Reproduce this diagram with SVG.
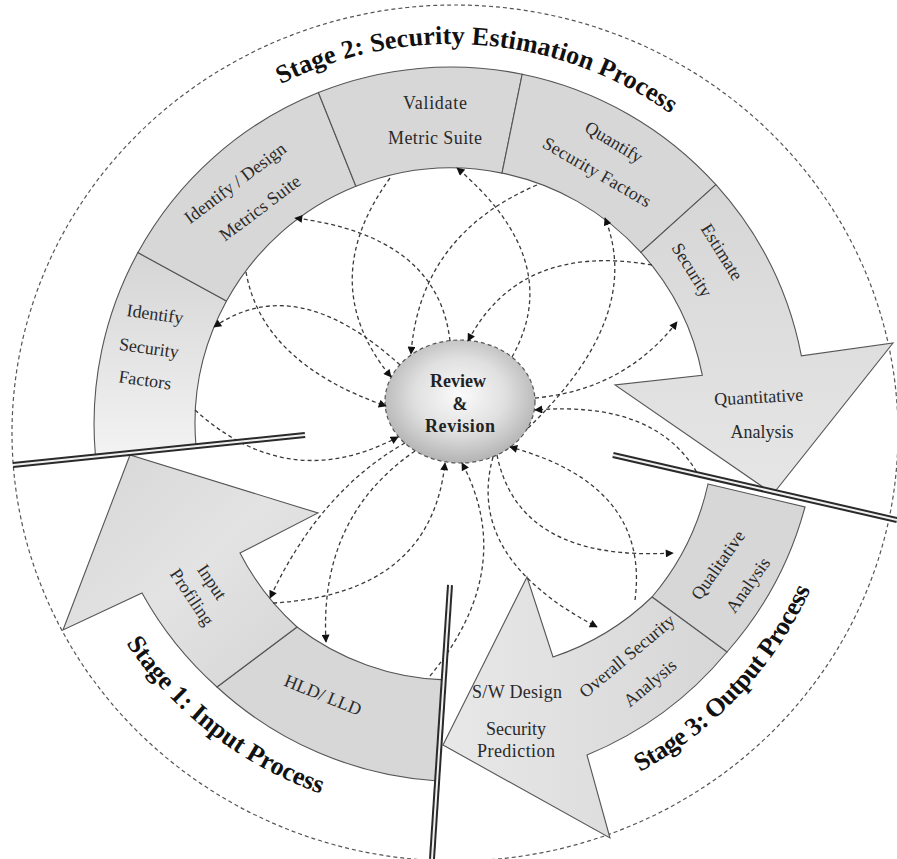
<svg xmlns="http://www.w3.org/2000/svg" width="897" height="859" viewBox="0 0 897 859">
<defs>
<style>
.seg{stroke:#555;stroke-width:1.1;fill:#d7d7d7}
.lbl{font-family:"Liberation Serif","Times New Roman",serif;font-size:18px;fill:#2a2a2a;text-anchor:middle}
.rev{font-family:"Liberation Serif","Times New Roman",serif;font-size:18px;font-weight:bold;fill:#222;text-anchor:middle}
.ttl{font-family:"Liberation Serif","Times New Roman",serif;font-size:26px;font-weight:bold;fill:#111}
.con{fill:none;stroke:#3a3a3a;stroke-width:1.3;stroke-dasharray:4 3;marker-end:url(#ah)}
.sepo{fill:none;stroke:#2a2a2a;stroke-width:6}
.sepi{fill:none;stroke:#f0f0f0;stroke-width:2}
.outer{fill:none;stroke:#555;stroke-width:1.2;stroke-dasharray:4 3}
</style>
<marker id="ah" viewBox="0 0 10 10" refX="9" refY="5" markerWidth="9" markerHeight="8" orient="auto" markerUnits="userSpaceOnUse"><path d="M0,0 L10,5 L0,10 z" fill="#111"/></marker>
<radialGradient id="gRev" cx="50%" cy="45%" r="55%"><stop offset="0" stop-color="#fbfbfb"/><stop offset="0.55" stop-color="#e0e0e0"/><stop offset="1" stop-color="#b3b3b3"/></radialGradient>
<linearGradient id="gISF" x1="0" y1="0" x2="0" y2="1"><stop offset="0" stop-color="#d5d5d5"/><stop offset="1" stop-color="#f3f3f3"/></linearGradient>
<linearGradient id="gIP" x1="0" y1="0" x2="1" y2="1"><stop offset="0" stop-color="#d6d6d6"/><stop offset="0.5" stop-color="#e3e3e3"/><stop offset="1" stop-color="#d4d4d4"/></linearGradient>
<linearGradient id="gQA" x1="0" y1="0" x2="0" y2="1"><stop offset="0" stop-color="#d6d6d6"/><stop offset="1" stop-color="#e6e6e6"/></linearGradient>
<linearGradient id="gSW" x1="0" y1="0" x2="1" y2="0"><stop offset="0" stop-color="#e8e8e8"/><stop offset="1" stop-color="#d6d6d6"/></linearGradient>
</defs>
<rect width="897" height="859" fill="#fff"/>
<ellipse class="outer" cx="455" cy="433" rx="443" ry="428"/>

<g id="stage2">
<g id="identify-security-factors"><path class="seg" fill="url(#gISF)" style="fill:url(#gISF)" d="M95.4,455.1 A357,357 0 0 1 137.9,252.6 L226.5,301.1 A256,256 0 0 0 196,446.3 Z"/>
<text class="lbl" transform="translate(155,314) rotate(8)" y="6">Identify</text>
<text class="lbl" transform="translate(149,348) rotate(8)" y="6">Security</text>
<text class="lbl" transform="translate(145,380) rotate(8)" y="6">Factors</text></g>
<g id="identify-design-metrics"><path class="seg" d="M137.9,252.6 A357,357 0 0 1 318.4,92.5 L355.9,186.3 A256,256 0 0 0 226.5,301.1 Z"/>
<text class="lbl" transform="translate(235,183) rotate(-37)" y="6">Identify / Design</text>
<text class="lbl" transform="translate(260,208) rotate(-37)" y="6">Metrics Suite</text></g>
<g id="validate-metric-suite"><path class="seg" d="M318.4,92.5 A357,357 0 0 1 522.2,74.2 L502,173.1 A256,256 0 0 0 355.9,186.3 Z"/>
<text class="lbl" x="435" y="109" textLength="64">Validate</text>
<text class="lbl" x="435" y="144" textLength="94">Metric Suite</text></g>
<g id="quantify-security-factors"><path class="seg" d="M522.2,74.2 A357,357 0 0 1 715.9,184.7 L640.9,252.4 A256,256 0 0 0 502,173.1 Z"/>
<text class="lbl" transform="translate(614,142) rotate(31)" y="6">Quantify</text>
<text class="lbl" transform="translate(597,172) rotate(30)" y="6" textLength="122">Security Factors</text></g>
<g id="estimate-security"><path class="seg" style="fill:url(#gQA)" d="M715.9,184.7 A357,357 0 0 1 801.4,355.9 L893,343 L773,494 L615,385 L702.3,375.2 A256,256 0 0 0 640.9,252.4 Z"/>
<text class="lbl" transform="translate(722,252) rotate(58)" y="6">Estimate</text>
<text class="lbl" transform="translate(692,270) rotate(58)" y="6">Security</text>
<text class="lbl" transform="translate(759,403) rotate(-3)">Quantitative</text>
<text class="lbl" x="762" y="438">Analysis</text></g>
</g>

<g id="stage1">
<g id="hld-lld"><path class="seg" d="M444.3,679.9 L435.4,780.7 A357,357 0 0 1 217,687 L297,627 A256,256 0 0 0 444.3,679.9 Z"/>
<text class="lbl" transform="translate(323,695) rotate(22)" y="6">HLD/ LLD</text></g>
<g id="input-profiling"><path class="seg" style="fill:url(#gIP)" d="M297,627 L217,687 A357,357 0 0 1 142,593 L63,630 L130,455 L318,513 L240,553 A256,256 0 0 0 297,627 Z"/>
<text class="lbl" transform="translate(212,582) rotate(56)" y="6">Input</text>
<text class="lbl" transform="translate(192,597) rotate(56)" y="6">Profiling</text></g>
</g>

<g id="stage3">
<g id="qualitative-analysis"><path class="seg" d="M708,484 L805,507 A360,360 0 0 1 727,652 L652,597 A262,262 0 0 0 708,484 Z"/>
<text class="lbl" transform="translate(718,565) rotate(-55)" y="6">Qualitative</text>
<text class="lbl" transform="translate(748,585) rotate(-55)" y="6">Analysis</text></g>
<g id="overall-security"><path class="seg" style="fill:url(#gSW)" d="M652,597 L727,652 A360,360 0 0 1 587,755 L610,838 L443,745 L527,577 L553,657 A260,260 0 0 0 652,597 Z"/>
<text class="lbl" transform="translate(627,656) rotate(-40)" y="6">Overall Security</text>
<text class="lbl" transform="translate(650,683) rotate(-40)" y="6">Analysis</text>
<text class="lbl" x="517" y="698" textLength="90">S/W Design</text>
<text class="lbl" x="516" y="735">Security</text>
<text class="lbl" x="516" y="757" textLength="78">Prediction</text></g>
</g>

<g id="review-revision">
<ellipse cx="460" cy="401.5" rx="75" ry="61.5" fill="url(#gRev)" stroke="#555" stroke-width="1.2" stroke-dasharray="4 3"/>
<text class="rev" x="458" y="387">Review</text>
<text class="rev" x="460" y="410">&amp;</text>
<text class="rev" x="460" y="432" textLength="70">Revision</text>
</g>

<g id="connectors">
<path class="con" d="M537,185 Q420,235 411,354"/>
<path class="con" d="M652,265 Q520,242 468,341"/>
<path class="con" d="M390,178 Q314,283 391,377"/>
<path class="con" d="M246,272 Q262,363 386,406"/>
<path class="con" d="M195,410 Q289,495 398,437"/>
<path class="con" d="M273,603 Q431,594 445,463"/>
<path class="con" d="M430,676 Q518,569 462,463"/>
<path class="con" d="M635,600 Q650,485 510,447"/>
<path class="con" d="M700,478 Q659,400 535,410"/>
<path class="con" d="M400,365 Q296,270 214,327"/>
<path class="con" d="M450,341 Q438,236 295,218"/>
<path class="con" d="M512,357 Q566,261 457,168"/>
<path class="con" d="M528,428 Q644,317 605,218"/>
<path class="con" d="M535,398 Q624,390 677,322"/>
<path class="con" d="M497,455 Q519,562 673,553"/>
<path class="con" d="M493,457 Q465,558 597,627"/>
<path class="con" d="M415,451 Q319,517 326,642"/>
<path class="con" d="M405,443 Q320,491 270,598"/>
</g>

<g id="separators">
<path class="sepo" d="M13,465 L305,435"/><path class="sepi" d="M13,465 L305,435"/>
<path class="sepo" d="M613,455 L897,520"/><path class="sepi" d="M613,455 L897,520"/>
<path class="sepo" d="M450,585 L432,859"/><path class="sepi" d="M450,585 L432,859"/>
</g>

<g id="titles">
<path id="t2" d="M280.9,84.2 A380,380 0 0 1 674.4,116.6" fill="none"/>
<path id="t1" d="M126,643.2 A392,392 0 0 0 326,795.5" fill="none"/>
<path id="t3" d="M640,772 A396,396 0 0 0 811.6,587.6" fill="none"/>
<text class="ttl"><textPath href="#t2" textLength="410" lengthAdjust="spacing">Stage 2: Security Estimation Process</textPath></text>
<text class="ttl"><textPath href="#t1" textLength="250" lengthAdjust="spacing">Stage 1: Input Process</textPath></text>
<text class="ttl"><textPath href="#t3" textLength="254" lengthAdjust="spacing">Stage 3: Output Process</textPath></text>
</g>
</svg>
